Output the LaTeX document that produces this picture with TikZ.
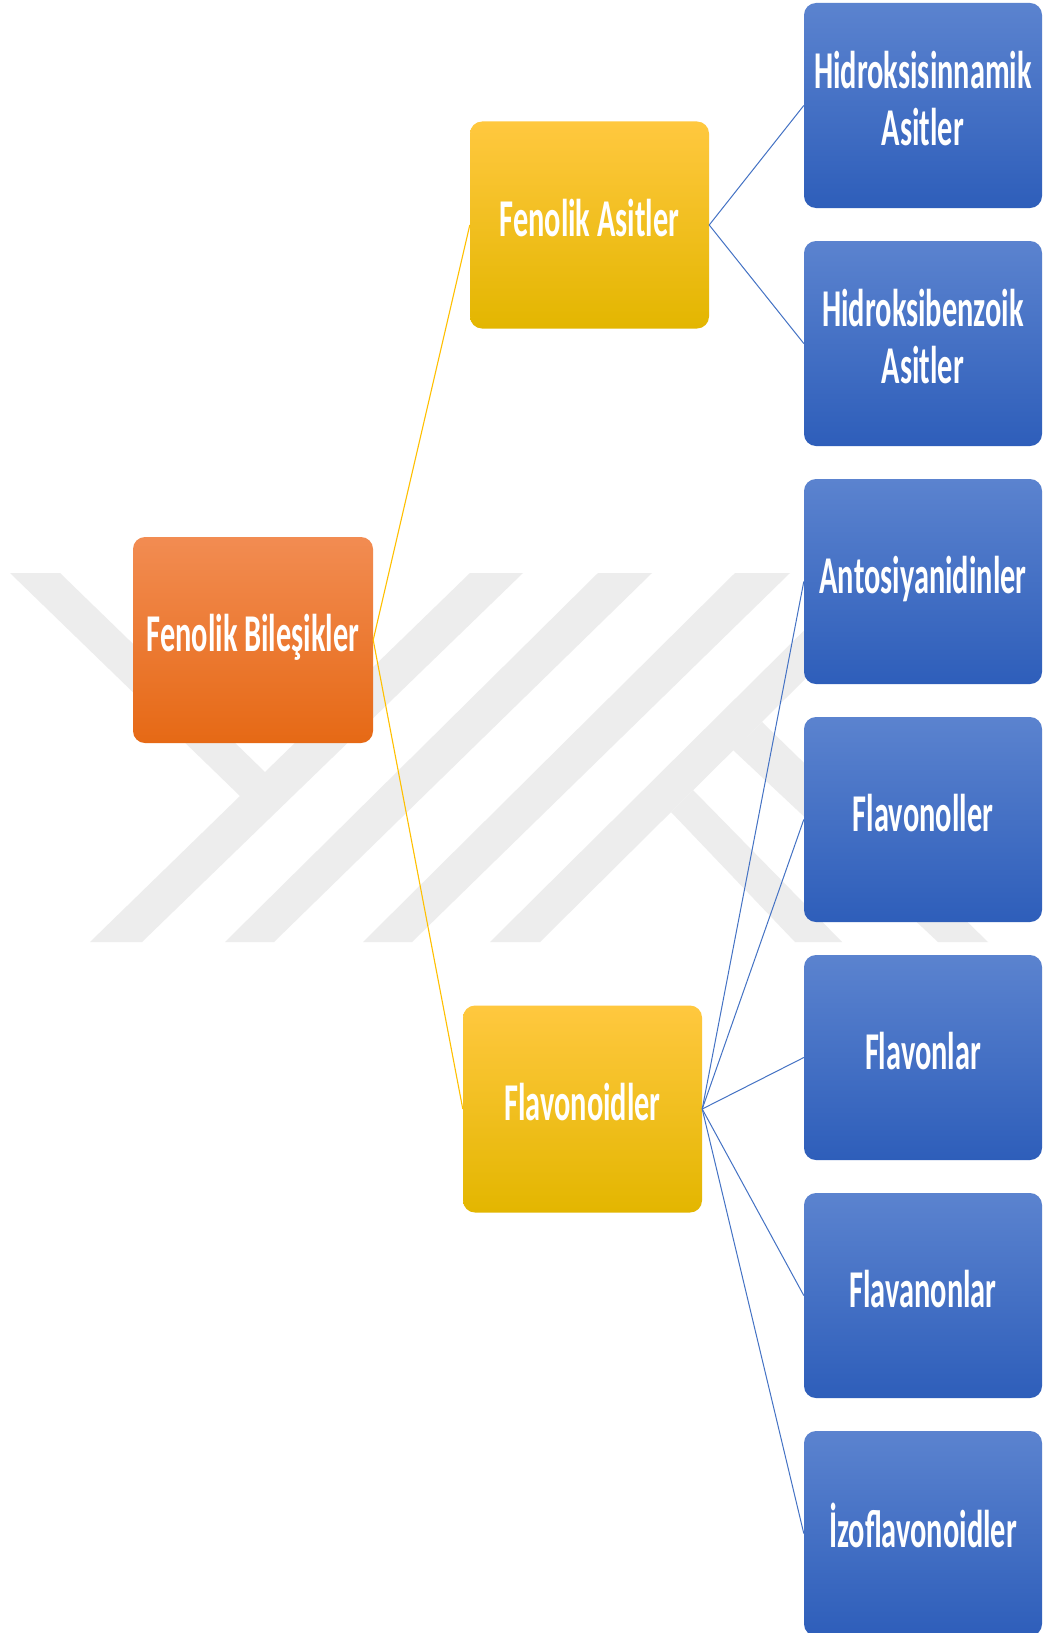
\documentclass[tikz,border=0pt]{standalone}
\usepackage{fontspec}
\setmainfont{Carlito}
\usepackage{graphicx}

\definecolor{wmgray}{HTML}{EDEDED}
\definecolor{orTop}{HTML}{F28C52}
\definecolor{orBot}{HTML}{E66915}
\definecolor{yeTop}{HTML}{FFC83F}
\definecolor{yeMid}{HTML}{FFC200}
\definecolor{yeBot}{HTML}{E3B600}
\definecolor{blTop}{HTML}{5B83CF}
\definecolor{blBot}{HTML}{2E5EBA}
\definecolor{yeLine}{HTML}{FFC000}
\definecolor{blLine}{HTML}{4472C4}

% tall, narrow box lettering
\newcommand\tall[1]{\scalebox{1}[1.75]{\begin{tabular}{@{}c@{}}#1\end{tabular}}}

\tikzset{
  box/.style={rounded corners=12bp, inner sep=0pt, text=white,
    font=\bfseries\fontsize{30.5}{33}\selectfont, align=center},
  rootbox/.style={box, minimum width=240bp, minimum height=206bp,
    top color=orTop, bottom color=orBot},
  midbox/.style={box, minimum width=239bp, minimum height=207bp,
    top color=yeTop, middle color=yeMid, bottom color=yeBot},
  leafbox/.style={box, minimum width=238bp, minimum height=205bp,
    top color=blTop, bottom color=blBot},
  yelink/.style={draw=yeLine, line width=1.1bp},
  bllink/.style={draw=blLine, line width=1bp},
  wmstripe/.style={fill=wmgray, draw=none}
}

\begin{document}
\begin{tikzpicture}[x=1bp, y=-1bp]
  \useasboundingbox (0,0) rectangle (1043,1633);
  \fill[white] (0,0) rectangle (1043,1633);

  % background emblem stripes
  \fill[wmstripe] (10,573) -- (60,573) -- (265,772) -- (470,573) -- (523,573)
              -- (142,942) -- (90,942) -- (240,796) -- cycle;
  \fill[wmstripe] (598,573) -- (652,573) -- (274,942) -- (225,942) -- cycle;
  \fill[wmstripe] (735,573) -- (790,573) -- (412,942) -- (363,942) -- cycle;
  \fill[wmstripe] (862,573) -- (912,573) -- (540,942) -- (490,942) -- cycle;
  \fill[wmstripe] (671,812) -- (693,790) -- (842,942) -- (795,942) -- cycle;
  \fill[wmstripe] (733,750) -- (762,722) -- (988,942) -- (938,942) -- cycle;

  % boxes
  \node[rootbox] (root) at (253,640) {\tall{Fenolik Bileşikler}};
  \node[midbox]  (fa)   at (589.5,225) {\tall{Fenolik Asitler}};
  \node[midbox]  (fl)   at (582.5,1109) {\tall{Flavonoidler}};

  \node[leafbox] (hs) at (923,105.5)  {\tall{Hidroksisinnamik\\Asitler}};
  \node[leafbox] (hb) at (923,343.5)  {\tall{Hidroksibenzoik\\Asitler}};
  \node[leafbox] (an) at (923,581.5)  {\tall{Antosiyanidinler}};
  \node[leafbox] (fo) at (923,819.5)  {\tall{Flavonoller}};
  \node[leafbox] (fn) at (923,1057.5) {\tall{Flavonlar}};
  \node[leafbox] (fv) at (923,1295.5) {\tall{Flavanonlar}};
  \node[leafbox] (iz) at (923,1533.5) {\tall{İzoflavonoidler}};

  % connectors
  \path[yelink] (root.east) -- (fa.west);
  \path[yelink] (root.east) -- (fl.west);
  \foreach \c in {hs,hb}
    \path[bllink] (fa.east) -- (\c.west);
  \foreach \c in {an,fo,fn,fv,iz}
    \path[bllink] (fl.east) -- (\c.west);
\end{tikzpicture}
\end{document}
